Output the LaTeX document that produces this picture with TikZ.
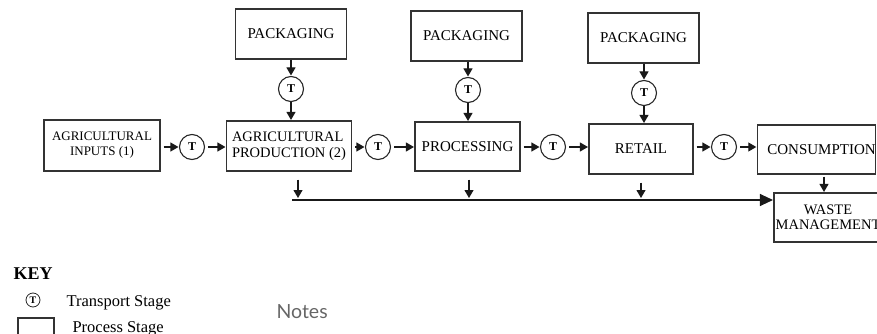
\documentclass[tikz,border=0pt]{standalone}
\usepackage{fontspec}
\setmainfont{Liberation Serif}
\newfontfamily\notesfont{Lato}
\usetikzlibrary{arrows.meta}

\tikzstyle{stage}=[draw=black!80,line width=1.1pt,inner sep=0pt,align=center,font=\fontsize{15}{16}\selectfont]
\tikzstyle{transport}=[draw=black!85,line width=1.1pt,circle,minimum size=25pt,inner sep=0pt,font=\fontsize{12}{12}\selectfont\bfseries]
\tikzstyle{flow}=[draw=black!90,line width=1.1pt,-{Triangle[length=8pt,width=9pt]},shorten <=3pt,shorten >=0.5pt]
\tikzstyle{keytext}=[anchor=base west,font=\fontsize{16.5}{17}\selectfont]

\begin{document}
\begin{tikzpicture}[x=1pt,y=-1pt]
    \useasboundingbox (0,0) rectangle (877,334);
    \clip (0,0) rectangle (877,334);
    % First the packaging boxes on top
    \foreach \pos/\name in {{(291,34)/packa}, {(466.5,36)/packb}, {(643.5,38)/packc}}
        \node[stage,minimum width=111pt,minimum height=50pt] (\name) at \pos {PACKAGING};
    % Then the chain of process stages
    \node[stage,minimum width=116pt,minimum height=51pt,font=\fontsize{13}{15}\selectfont] (inputs) at (102,145.5) {AGRICULTURAL\\INPUTS (1)};
    \node[stage,minimum width=125pt,minimum height=50pt,align=left,font=\fontsize{14.5}{16}\selectfont] (prod) at (289,146) {AGRICULTURAL\\PRODUCTION (2)};
    \node[stage,minimum width=105pt,minimum height=49pt] (proc) at (467.5,146.5) {PROCESSING};
    \node[stage,minimum width=104pt,minimum height=50pt] (retail) at (641,149) {RETAIL};
    \node[stage,minimum width=113pt,minimum height=49pt] (cons) at (816.5,149.5) {\hspace*{10pt}CONSUMPTION};
    \node[stage,minimum width=108pt,minimum height=49pt,font=\fontsize{14.5}{15.5}\selectfont] (waste) at (828,217.5) {WASTE\\MANAGEMENT};
    % Transport stages
    \foreach \pos/\name in {{(291,89)/ta}, {(468,90)/tb}, {(644,93)/tc}, {(192,147)/t1}, {(378,147)/t2}, {(553,147)/t3}, {(724,147)/t4}}
        \node[transport] (\name) at \pos {T};
    % Packaging goes down into the chain
    \foreach \pack/\tr/\stage in {packa/ta/prod, packb/tb/proc, packc/tc/retail} {
        \path[flow,shorten <=0pt] (\tr |- \pack.south) -- (\tr);
        \path[flow,shorten <=0pt] (\tr) -- (\tr |- \stage.north);
    }
    % Left to right along the chain
    \foreach \left/\tr/\right in {inputs/t1/prod, prod/t2/proc, proc/t3/retail, retail/t4/cons} {
        \path[flow] (\tr -| \left.east) -- (\tr);
        \path[flow] (\tr) -- (\tr -| \right.west);
    }
    % Waste line
    \coordinate (sink) at (292,200);
    \path[flow,shorten <=0pt,-{Triangle[length=13pt,width=12pt]}] (sink) -- (sink -| waste.west);
    \foreach \stage/\dx in {prod/9, proc/1.5, retail/0}
        \path[flow,shorten <=8pt,shorten >=2pt] ([xshift=\dx pt]\stage.south) -- ([xshift=\dx pt]\stage.south |- sink);
    \path[flow,shorten <=2pt] ([xshift=7.5pt]cons.south) -- ([xshift=7.5pt]cons.south |- waste.north);
    % Key
    \node[anchor=base west,font=\fontsize{18}{18}\selectfont\bfseries] (key) at (10,279) {KEY};
    \node[transport,minimum size=14pt,line width=0.8pt,font=\fontsize{10}{10}\selectfont\bfseries] (keyt) at (33,300) {T};
    \node[keytext] (keytlabel) at (63,306) {Transport Stage};
    \node[stage,minimum width=36pt,minimum height=22pt] (keybox) at (36,329) {};
    \node[keytext] (keyboxlabel) at (69,332) {Process Stage};
    % Notes heading
    \node[anchor=base west,font=\notesfont\fontsize{19.5}{20}\selectfont,text=black!60] (notes) at (273,318) {Notes};
\end{tikzpicture}
\end{document}
